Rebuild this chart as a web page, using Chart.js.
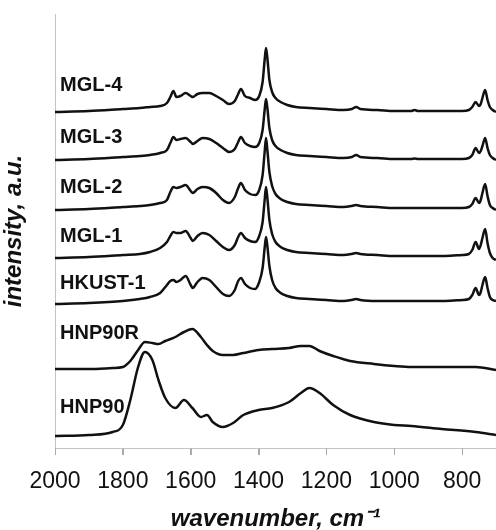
<!DOCTYPE html>
<html>
<head>
<meta charset="utf-8">
<script src="https://cdn.jsdelivr.net/npm/chart.js@4/dist/chart.umd.min.js"></script>
<style>
  html, body { margin: 0; padding: 0; background: #fff; }
  #chart { display: block; }
</style>
</head>
<body>
<canvas id="chart" width="496" height="530"></canvas>
<script>
// wavenumbers (cm-1) for the MOF spectra
const wnMOF = [2000, 1900, 1800, 1750, 1720, 1690, 1670, 1660, 1651, 1642,
  1630, 1615, 1600, 1594, 1580, 1565, 1545, 1525, 1505, 1487,
  1470, 1460, 1452, 1440, 1425, 1410, 1398, 1388, 1382, 1378,
  1374, 1368, 1360, 1350, 1335, 1315, 1290, 1250, 1200, 1150,
  1125, 1112, 1100, 1050, 1000, 950, 940, 930, 900, 850,
  800, 780, 770, 760, 750, 745, 740, 732, 725, 718, 710, 700];

const mgl4 = [336, 337, 339, 340, 341, 342, 345, 351, 357, 351,
  352, 355, 352, 351, 354, 355, 355, 352, 348, 344,
  347, 354, 359, 352, 350, 348, 352, 366, 388, 400,
  390, 368, 356, 350, 346, 343, 341, 340, 339, 338,
  339, 341, 339, 338, 337, 337, 338, 337, 337, 337,
  337, 338, 341, 346, 342, 344, 350, 358, 348, 341, 338, 336];

const mgl3 = [288, 289, 291, 292, 293, 295, 298, 305, 311, 308,
  309, 310, 306, 304, 307, 310, 309, 305, 300, 296,
  299, 306, 311, 305, 302, 301, 305, 318, 338, 349,
  340, 320, 308, 302, 298, 295, 293, 292, 291, 290,
  291, 293, 291, 290, 289, 289, 289.5, 289, 289, 289,
  289, 290, 293, 300, 295, 297, 302, 310, 300, 293, 290, 288];

const mgl2 = [238, 239, 241, 242, 243, 245, 248, 256, 261, 260,
  261, 263, 257, 255, 259, 261, 260, 255, 248, 245,
  251, 260, 265, 258, 254, 253, 258, 273, 296, 310,
  298, 276, 262, 254, 249, 246, 244, 243, 242, 241,
  242, 243, 242, 241, 240, 240, 240, 240, 240, 240,
  240, 241, 244, 250, 245, 248, 255, 264, 252, 243, 240, 238];

const mgl1 = [190, 191, 193, 194, 196, 200, 206, 212, 216, 215,
  215, 217, 210, 207, 212, 215, 213, 207, 201, 198,
  203, 211, 215, 210, 207, 206, 212, 226, 248, 261,
  250, 228, 214, 206, 201, 198, 196, 195, 194, 193,
  194, 195, 194, 193, 192, 192, 192, 192, 192, 192,
  193, 194, 198, 206, 199, 203, 210, 219, 205, 195, 190, 188];

const hkust1 = [144, 145, 147, 149, 151, 155, 163, 167, 168, 166,
  168, 172, 163, 160, 166, 170, 168, 161, 154, 152,
  158, 167, 170, 164, 160, 159, 166, 180, 200, 211,
  202, 182, 168, 160, 155, 152, 150, 149, 148, 147,
  148, 149, 148, 147, 147, 147, 147, 147, 147, 147,
  148, 149, 153, 160, 153, 156, 163, 171, 160, 151, 148, 147];

// wavenumbers for the HNP spectra
const wnHNP = [2000, 1900, 1830, 1800, 1778, 1755, 1735, 1713, 1695, 1675,
  1645, 1620, 1595, 1570, 1552, 1535, 1505, 1475, 1445, 1400,
  1360, 1310, 1275, 1250, 1220, 1180, 1130, 1060, 1000, 950,
  860, 760, 700];

const hnp90r = [79, 79, 80, 81, 87, 98, 106, 105, 104, 107,
  111, 116, 119, 111, 103, 97, 93, 93, 95, 98,
  99, 100, 102, 102, 97, 92, 87, 84, 82, 81,
  81, 81, 78];

const hnp90 = [12, 13, 16, 23, 48, 81, 96, 88, 68, 50,
  40, 48, 40, 31, 33, 26, 21, 25, 33, 38,
  40, 46, 55, 60, 55, 43, 33, 26, 23, 22,
  19, 16, 13];

const seriesNames = ['MGL-4', 'MGL-3', 'MGL-2', 'MGL-1', 'HKUST-1', 'HNP90R', 'HNP90'];
const xTicks = [2000, 1800, 1600, 1400, 1200, 1000, 800];

// where each curve name sits (wavenumber, intensity)
const labelX = 1985;
const labelY = [363, 311, 261, 212, 165, 115, 41];

const FONT = '"Liberation Sans", Arial, sans-serif';

function toPoints(xs, ys) {
    return xs.map((x, i) => ({x: x, y: ys[i]}));
}

const allSeries = [
    [wnMOF, mgl4], [wnMOF, mgl3], [wnMOF, mgl2], [wnMOF, mgl1],
    [wnMOF, hkust1], [wnHNP, hnp90r], [wnHNP, hnp90]
];

const datasets = allSeries.map((s, i) => ({
    label: seriesNames[i],
    data: toPoints(s[0], s[1]),
    borderColor: '#111',
    borderWidth: 2.5,
    pointRadius: 0,
    fill: false,
    cubicInterpolationMode: 'monotone'
}));

const curveLabels = {
    id: 'curveLabels',
    afterDatasetsDraw(chart) {
        const ctx = chart.ctx;
        const xs = chart.scales.x, ys = chart.scales.y;
        ctx.save();
        ctx.font = 'bold 20px ' + FONT;
        ctx.fillStyle = '#111';
        ctx.textBaseline = 'middle';
        ctx.textAlign = 'left';
        chart.data.datasets.forEach((ds, i) => {
            ctx.fillText(ds.label, xs.getPixelForValue(labelX), ys.getPixelForValue(labelY[i]));
        });
        ctx.restore();
    }
};

// small tick marks hanging below the x axis
const xTickMarks = {
    id: 'xTickMarks',
    afterDraw(chart) {
        const ctx = chart.ctx;
        const xs = chart.scales.x;
        const top = chart.chartArea.bottom;
        ctx.save();
        ctx.strokeStyle = '#aaa';
        ctx.lineWidth = 1;
        ctx.beginPath();
        xTicks.forEach(v => {
            const px = Math.round(xs.getPixelForValue(v)) + 0.5;
            ctx.moveTo(px, top);
            ctx.lineTo(px, top + 7);
        });
        ctx.stroke();
        ctx.restore();
    }
};

const ctx = document.getElementById('chart').getContext('2d');
new Chart(ctx, {
    type: 'line',
    data: { datasets: datasets },
    plugins: [curveLabels, xTickMarks],
    options: {
        responsive: false,
        animation: false,
        layout: { padding: { top: 14, right: 0, left: 0, bottom: 0 } },
        plugins: {
            legend: { display: false },
            tooltip: { enabled: false }
        },
        scales: {
            x: {
                type: 'linear',
                reverse: true,
                min: 700,
                max: 2000,
                afterBuildTicks: scale => { scale.ticks = xTicks.map(v => ({value: v})); },
                afterFit: scale => { scale.height = 82; },
                grid: {
                    drawOnChartArea: false,
                    color: '#aaa',
                    tickLength: 7
                },
                border: { color: '#c4c4c4', width: 1 },
                ticks: {
                    color: '#111',
                    padding: 13,
                    maxRotation: 0,
                    callback: value => String(value),
                    font: { family: FONT, size: 23 }
                },
                title: {
                    display: true,
                    text: 'wavenumber, cm\u207B\u00B9',
                    color: '#111',
                    padding: { top: 0, bottom: -4 },
                    font: { family: FONT, size: 24, weight: 'bold', style: 'italic' }
                }
            },
            y: {
                min: 0,
                max: 434,
                afterFit: scale => { scale.width = 55; },
                grid: { display: false, drawTicks: false },
                border: { color: '#c4c4c4', width: 1 },
                ticks: { display: false },
                title: {
                    display: true,
                    text: 'intensity, a.u.',
                    color: '#111',
                    padding: { top: 0, bottom: 0 },
                    font: { family: FONT, size: 24, weight: 'bold', style: 'italic' }
                }
            }
        }
    }
});
</script>
</body>
</html>
